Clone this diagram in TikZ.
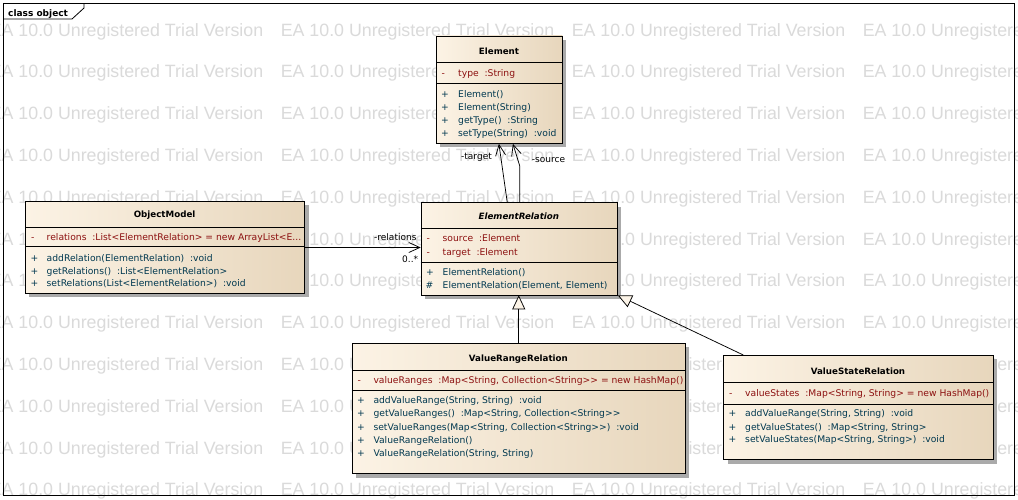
\documentclass[tikz,border=0pt]{standalone}
\usepackage{fontspec}
\setmainfont{DejaVu Sans}
\newfontfamily\wmfam{Liberation Sans}
\usetikzlibrary{arrows.meta,shadows,calc}
\definecolor{clsL}{RGB}{252,243,229}
\definecolor{clsR}{RGB}{231,214,188}
\definecolor{attrc}{RGB}{140,16,16}
\definecolor{operc}{RGB}{0,56,80}
\definecolor{wmc}{RGB}{218,218,218}
\definecolor{genc}{RGB}{252,244,232}
\definecolor{shc}{RGB}{170,170,170}
\newcommand\mybody{\fontsize{9.2}{11}\selectfont}
\newcommand\mytitle{\fontsize{8.7}{10}\selectfont\bfseries}
\newcommand\mylbl{\fontsize{9}{11}\selectfont}
\newcommand\clsdiv[2]{\draw[divl] ($(#1.north west)+(0,#2)$) -- ($(#1.north east)+(0,#2)$);}
\tikzset{
  clsbox/.style={draw=black, line width=0.8pt, left color=clsL, right color=clsR,
    anchor=north west, inner sep=0pt,
    drop shadow={shadow xshift=4pt, shadow yshift=-4pt, fill=shc, opacity=1}},
  divl/.style={draw=black, line width=0.8pt},
  ttl/.style={font=\mytitle, anchor=base, inner sep=0pt},
  attr/.style={font=\mybody, text=attrc, anchor=base west, inner sep=0pt},
  oper/.style={font=\mybody, text=operc, anchor=base west, inner sep=0pt},
  lbl/.style={font=\mylbl, text=black, anchor=base west, inner sep=0pt},
  wm/.style={font=\wmfam\fontsize{17.8}{20}\selectfont, text=wmc, anchor=base west, inner sep=0pt},
  assoc/.style={draw=black, line width=0.75pt, -{Straight Barb[length=11pt,width=10pt]}},
  gen/.style={draw=black, line width=0.75pt, -{Triangle[length=14pt,width=13pt,fill=genc]}},
  frameline/.style={draw=black, line width=0.8pt}
}
\begin{document}
\begin{tikzpicture}[x=1pt,y=-1pt]
\useasboundingbox[fill=white] (0,0) rectangle (1018,499);
% watermark
\begin{scope}
\clip (0,0) rectangle (1018,499);
\foreach \r in {0,...,11}{
  \foreach \c in {0,...,3}{
    \node[wm] (wm-\r-\c) at ({-10.4+291*\c},{36+41.8*\r}) {EA 10.0 Unregistered Trial Version};
  }
}
\end{scope}
% frame
\draw[frameline] (3.5,3.5) rectangle (1014.5,495.5);
\draw[frameline] (3.5,19) -- (72,19) -- (84,8) -- (84,3.5);
\node[lbl, font=\mylbl\bfseries] (frame-t) at (8,16.8) {class object};

% Element
\node[clsbox, minimum width=126pt, minimum height=107.5pt] (elem) at (436,35.5) {};
\clsdiv{elem}{27.2}
\clsdiv{elem}{47.8}
\node[ttl] (elem-t) at (499,54.2) {Element};
\node[attr] (elem-v1) at (441.5,76.2) {-};
\node[attr] (elem-a1) at (458,76.2) {type~~:String};
\node[oper] (elem-v2) at (441,97) {+};
\node[oper] (elem-o1) at (458,97) {Element()};
\node[oper] (elem-v3) at (441,110.1) {+};
\node[oper] (elem-o2) at (458,110.1) {Element(String)};
\node[oper] (elem-v4) at (441,123.2) {+};
\node[oper] (elem-o3) at (458,123.2) {getType()~~:String};
\node[oper] (elem-v5) at (441,136.3) {+};
\node[oper] (elem-o4) at (458,136.3) {setType(String)~~:void};

% ObjectModel
\node[clsbox, minimum width=279.3pt, minimum height=91.5pt] (om) at (25,201) {};
\clsdiv{om}{26.3}
\clsdiv{om}{45.7}
\node[ttl] (om-t) at (164.6,217.8) {ObjectModel};
\node[attr] (om-v1) at (31,240.8) {-};
\node[attr] (om-a1) at (46.5,240.8) {relations~~:List<ElementRelation> = new ArrayList<E...};
\node[oper] (om-v2) at (30.5,261.2) {+};
\node[oper] (om-o1) at (46.5,261.2) {addRelation(ElementRelation)~~:void};
\node[oper] (om-v3) at (30.5,274) {+};
\node[oper] (om-o2) at (46.5,274) {getRelations()~~:List<ElementRelation>};
\node[oper] (om-v4) at (30.5,286.8) {+};
\node[oper] (om-o3) at (46.5,286.8) {setRelations(List<ElementRelation>)~~:void};

% ElementRelation
\node[clsbox, minimum width=196.3pt, minimum height=92.2pt] (er) at (420.7,202.3) {};
\clsdiv{er}{26}
\clsdiv{er}{60}
\node[ttl, font=\mytitle\itshape] (er-t) at (518.85,219.2) {ElementRelation};
\node[attr] (er-v1) at (426.5,241.8) {-};
\node[attr] (er-a1) at (442.5,241.8) {source~~:Element};
\node[attr] (er-v2) at (426.5,255.2) {-};
\node[attr] (er-a2) at (442.5,255.2) {target~~:Element};
\node[oper] (er-v3) at (426,275.8) {+};
\node[oper] (er-o1) at (442.5,275.8) {ElementRelation()};
\node[oper] (er-v4) at (425.5,288.5) {\#};
\node[oper] (er-o2) at (442.5,288.5) {ElementRelation(Element, Element)};

% ValueRangeRelation
\node[clsbox, minimum width=333.3pt, minimum height=130.6pt] (vrr) at (351.7,342.7) {};
\clsdiv{vrr}{27.3}
\clsdiv{vrr}{47.3}
\node[ttl] (vrr-t) at (518.4,361.2) {ValueRangeRelation};
\node[attr] (vrr-v1) at (357.5,383.5) {-};
\node[attr] (vrr-a1) at (373.3,383.5) {valueRanges~~:Map<String, Collection<String>{}> = new HashMap()};
\node[oper] (vrr-v2) at (357,403.5) {+};
\node[oper] (vrr-o1) at (373.3,403.5) {addValueRange(String, String)~~:void};
\node[oper] (vrr-v3) at (357,416.8) {+};
\node[oper] (vrr-o2) at (373.3,416.8) {getValueRanges()~~:Map<String, Collection<String>{}>};
\node[oper] (vrr-v4) at (357,430.2) {+};
\node[oper] (vrr-o3) at (373.3,430.2) {setValueRanges(Map<String, Collection<String>{}>)~~:void};
\node[oper] (vrr-v5) at (357,443.5) {+};
\node[oper] (vrr-o4) at (373.3,443.5) {ValueRangeRelation()};
\node[oper] (vrr-v6) at (357,456.8) {+};
\node[oper] (vrr-o5) at (373.3,456.8) {ValueRangeRelation(String, String)};

% ValueStateRelation
\node[clsbox, minimum width=269.4pt, minimum height=104.3pt] (vsr) at (723.3,355) {};
\clsdiv{vsr}{27.7}
\clsdiv{vsr}{49.3}
\node[ttl] (vsr-t) at (858,374.2) {ValueStateRelation};
\node[attr] (vsr-v1) at (729,396.2) {-};
\node[attr] (vsr-a1) at (745,396.2) {valueStates~~:Map<String, String> = new HashMap()};
\node[oper] (vsr-v2) at (728.5,416.8) {+};
\node[oper] (vsr-o1) at (745,416.8) {addValueRange(String, String)~~:void};
\node[oper] (vsr-v3) at (728.5,430.2) {+};
\node[oper] (vsr-o2) at (745,430.2) {getValueStates()~~:Map<String, String>};
\node[oper] (vsr-v4) at (728.5,442.8) {+};
\node[oper] (vsr-o3) at (745,442.8) {setValueStates(Map<String, String>)~~:void};

% connectors
\coordinate (relY) at (0,247.5);
\draw[assoc] (om.east |- relY) -- (er.west |- relY);
\node[lbl] (l-rel) at (374,240.2) {-relations};
\node[lbl] (l-mul) at (402,262.4) {0..*};

\draw[assoc] ($(er.north)+(-12,0)$) -- ($(elem.south)+(-0.5,0)$);
\draw[assoc] ($(er.north)+(0.6,0)$) -- ++(0,-36) -- ($(elem.south)+(13.5,0)$);
\node[lbl] (l-tgt) at (461,159.5) {-target};
\node[lbl] (l-src) at (531.7,162.5) {-source};

\draw[gen] (vrr.north) -- (vrr.north |- er.south);
\draw[gen] ($(vsr.north west)+(20,0)$) -- (er.south east);
\end{tikzpicture}
\end{document}
